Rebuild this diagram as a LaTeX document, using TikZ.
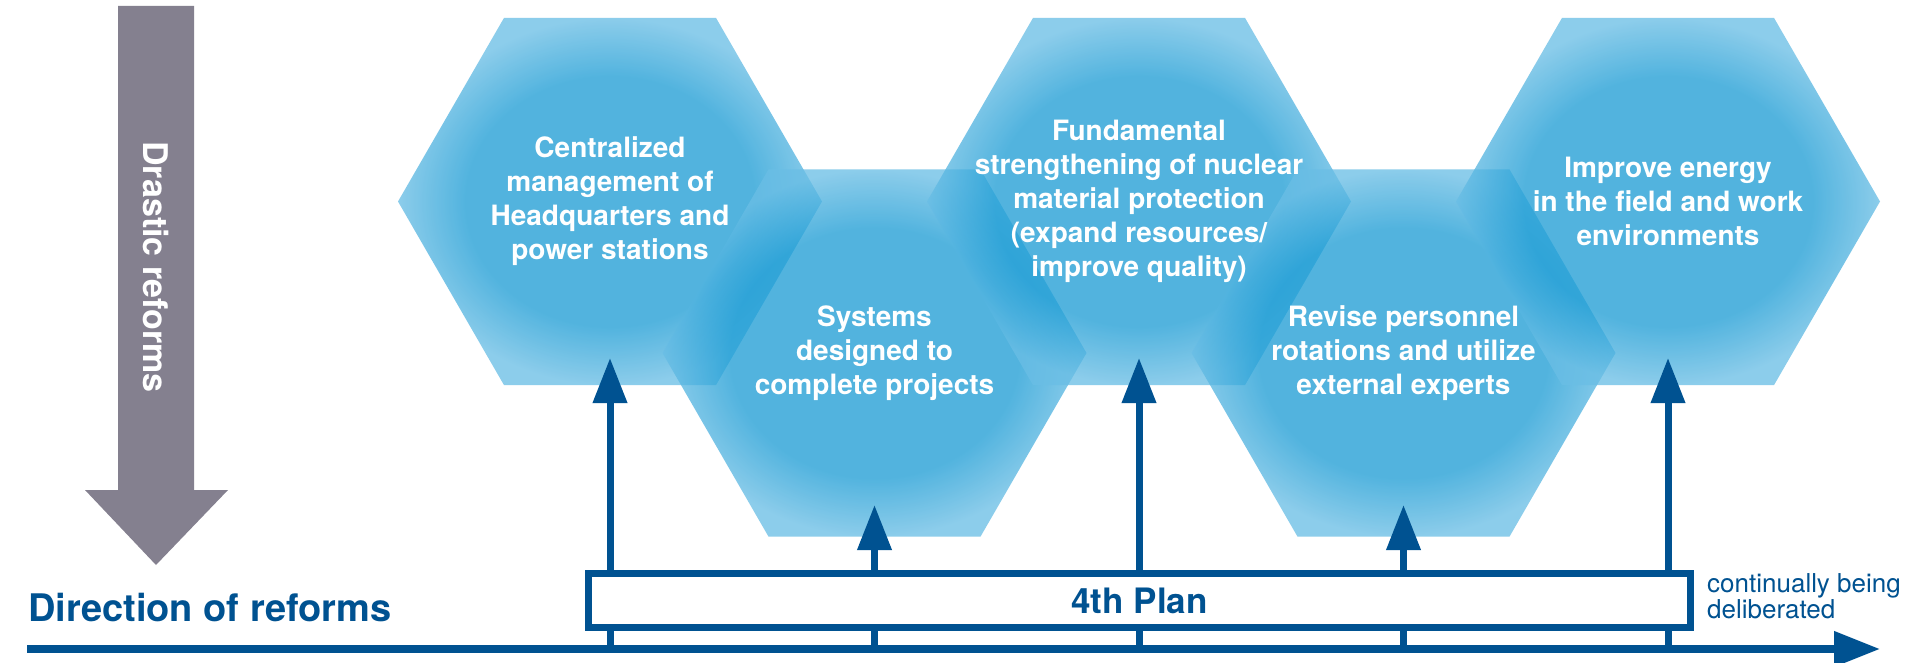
\documentclass[tikz,border=0pt]{standalone}
\usepackage{fontspec}
\setmainfont{TeX Gyre Heros}
\usetikzlibrary{arrows.meta}
\definecolor{navy}{RGB}{0,82,145}
\definecolor{greyarrow}{RGB}{132,128,143}
\definecolor{hexin}{RGB}{30,157,213}
\definecolor{hexout}{RGB}{106,190,229}
\pgfdeclareradialshading{hexshade}{\pgfpointorigin}{color(0bp)=(hexin); color(17bp)=(hexin); color(25bp)=(hexout); color(50bp)=(hexout)}
\begin{document}
\begin{tikzpicture}[x=1pt,y=-1pt,
  hexfill/.style={shading=hexshade, fill opacity=0.77, draw=none},
  hextext/.style={text=white, font=\bfseries\fontsize{28}{34}\selectfont, align=center, inner sep=0pt},
  uparrow/.style={draw=navy, line width=7pt, -{Triangle[length=45pt,width=33pt]}},
  planbox/.style={draw=navy, fill=white, line width=7pt, minimum width=1102pt, minimum height=54pt, inner sep=0pt, text=navy, font=\bfseries\fontsize{35}{40}\selectfont},
  axisline/.style={draw=navy, line width=7.5pt, -{Triangle[length=46pt,width=34pt]}}
]
\useasboundingbox (0,0) rectangle (1911,663);
\fill[white] (0,0) rectangle (1911,663);

% grey vertical arrow
\fill[greyarrow] (118,6) -- (194,6) -- (194,490) -- (228,490) -- (156,565) -- (85,490) -- (118,490) -- cycle;
\node[text=white, font=\bfseries\fontsize{34}{40}\selectfont, rotate=-90] (drastic) at (156,267) {Drastic reforms};

% hexagons
\coordinate (c1) at (610,201.5);
\coordinate (c2) at (874.5,353);
\coordinate (c3) at (1139,201.5);
\coordinate (c4) at (1403.5,353);
\coordinate (c5) at (1668,201.5);
\foreach \c in {c1,c2,c3,c4,c5}{
  \shade[hexfill] (\c) +(0:212) -- +(60:212) -- +(120:212) -- +(180:212) -- +(240:212) -- +(300:212) -- cycle;
}

\node[hextext] (h1) at (c1) {Centralized\\management of\\Headquarters and\\power stations};
\node[hextext] (h2) at (c2) {Systems\\designed to\\complete projects};
\node[hextext] (h3) at (c3) {Fundamental\\strengthening of nuclear\\material protection\\(expand resources/\\improve quality)};
\node[hextext] (h4) at (c4) {Revise personnel\\rotations and utilize\\external experts};
\node[hextext] (h5) at (c5) {Improve energy\\in the field and work\\environments};

% arrows
\coordinate (b1) at (610,649);    \coordinate (t1) at (610,358);
\coordinate (b2) at (874.5,649);  \coordinate (t2) at (874.5,505);
\coordinate (b3) at (1139,649);   \coordinate (t3) at (1139,358);
\coordinate (b4) at (1403.5,649); \coordinate (t4) at (1403.5,505);
\coordinate (b5) at (1668,649);   \coordinate (t5) at (1668,358);
\draw[uparrow] (b1) -- (t1);
\draw[uparrow] (b2) -- (t2);
\draw[uparrow] (b3) -- (t3);
\draw[uparrow] (b4) -- (t4);
\draw[uparrow] (b5) -- (t5);

% plan box
\node[planbox] (plan) at (1139.5,600.5) {4th Plan};
\node[anchor=west, text=navy, font=\fontsize{26}{26}\selectfont, align=left, inner sep=0pt] (cont) at (1707,596) {continually being\\deliberated};

% axis
\coordinate (ax0) at (27,649);
\coordinate (ax1) at (1880,649);
\draw[axisline] (ax0) -- (ax1);
\node[anchor=base west, text=navy, font=\bfseries\fontsize{38}{40}\selectfont, inner sep=0pt] (dir) at (28,621) {Direction of reforms};
\end{tikzpicture}
\end{document}
